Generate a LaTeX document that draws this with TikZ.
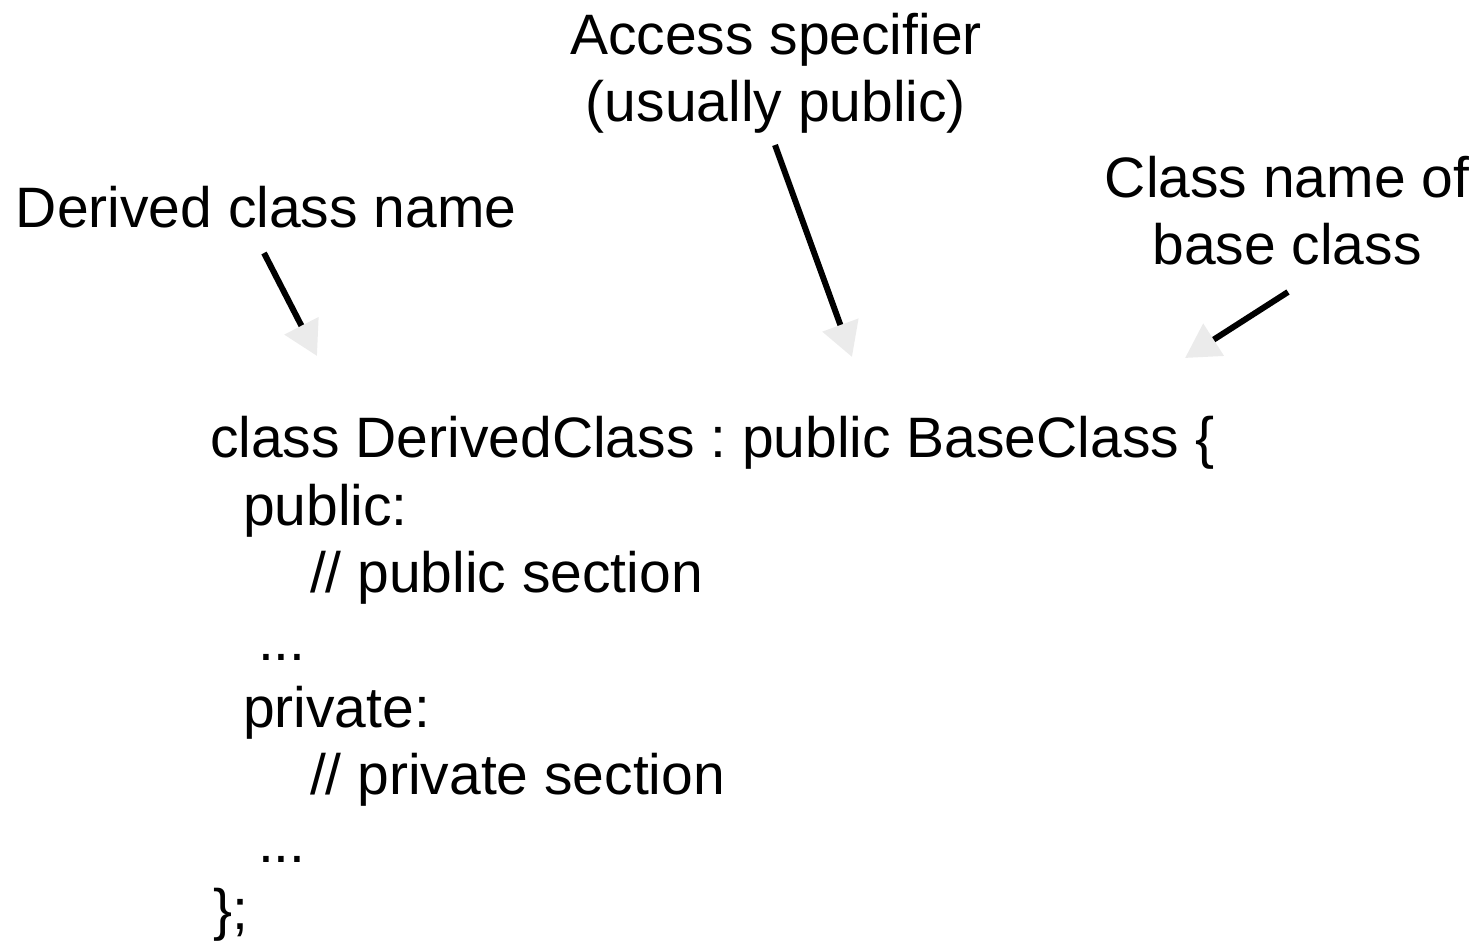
\documentclass[tikz,border=0pt]{standalone}
\usepackage{fontspec}
\setmainfont{Liberation Sans}
\usetikzlibrary{arrows.meta}
\definecolor{headgray}{HTML}{EBEBEB}
\frenchspacing
\begin{document}
\begin{tikzpicture}[x=1pt,y=-1pt,
  txt/.style={font=\fontsize{57}{67}\selectfont, inner sep=0pt, outer sep=0pt},
  codeline/.style={txt, anchor=base west},
  note/.style={txt, align=center, anchor=base},
  pointer/.style={line width=6pt, line cap=butt,
    -{Triangle[length=34pt,width=37pt,color=headgray]}}]
\useasboundingbox (0,0) rectangle (1478,940);

% labels (anchored at the baseline of their last line)
\node[codeline] (derived) at (16,227) {Derived class name};
\node[note] (access) at (776,121) {Access specifier\\(usually public)};
\node[note] (basename) at (1287,264) {Class name of\\base class};

% class declaration
\node[codeline] (l1) at (210,457) {class DerivedClass : public BaseClass \{};
\node[codeline] (l2) at (243,525) {public:};
\node[codeline] (l3) at (310,592) {// public section};
\node[codeline] (l4) at (258,660) {...};
\node[codeline] (l5) at (243,727) {private:};
\node[codeline] (l6) at (310,794) {// private section};
\node[codeline] (l7) at (258,862) {...};
\node[codeline] (l8) at (213,929) {\};};

% pointer ends
\coordinate (p1s) at (264,253);
\coordinate (p1e) at (317,356);
\coordinate (p2s) at (775,145);
\coordinate (p2e) at (852,357);
\coordinate (p3s) at (1288,292);
\coordinate (p3e) at (1185,358);

\draw[pointer] (p1s) -- (p1e);
\draw[pointer] (p2s) -- (p2e);
\draw[pointer] (p3s) -- (p3e);
\end{tikzpicture}
\end{document}
